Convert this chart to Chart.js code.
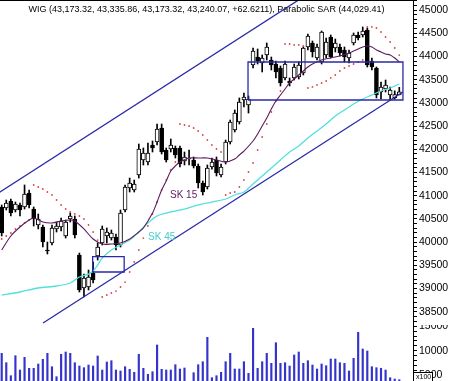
<!DOCTYPE html>
<html>
<head>
<meta charset="utf-8">
<script src="https://cdn.jsdelivr.net/npm/chart.js@4.4.0/dist/chart.umd.min.js"></script>
<style>
  html, body { margin: 0; padding: 0; background: #fff; overflow: hidden; }
  #wrap { position: relative; width: 450px; height: 381px; }
  #priceBox { position: absolute; left: 0; top: 0; width: 450px; height: 325px; }
  #volBox { position: absolute; left: 0; top: 325px; width: 450px; height: 56px; }
  #title { position: absolute; left: 0; top: 4px; width: 413px; text-align: center;
           font: 9px "Liberation Sans", Arial, sans-serif; color: #000; white-space: nowrap; }
</style>
</head>
<body>
<div id="wrap">
  <div id="priceBox"><canvas id="price" width="450" height="325"></canvas></div>
  <div id="volBox"><canvas id="vol" width="450" height="56"></canvas></div>
  <div id="title">WIG (43,173.32, 43,335.86, 43,173.32, 43,240.07, +62.6211), Parabolic SAR (44,029.41)</div>
</div>
<script>
// daily candles (oldest first)
const opens = [40757, 40735, 40886, 40692, 40800, 40757, 41058, 40713, 40369, 40326,
  39830, 39981, 40283, 40326, 40132, 40498, 40498, 39722, 39011, 39033,
  39334, 39700, 39981, 40132, 40088, 40110, 39938, 40692, 41166, 41123,
  41446, 41769, 41726, 42093, 42157, 42459, 41985, 42006, 42028, 42028,
  41748, 41791, 41769, 41640, 41274, 41188, 41619, 41769, 41446, 41726,
  42157, 42416, 42588, 43062, 42955, 43817, 43989, 43860, 44032, 43924,
  43838, 43752, 43537, 43472, 43537, 43558, 43644, 44205, 44291, 43968,
  43881, 44032, 44420, 44183, 44205, 44140, 43968, 44291, 44463, 44463,
  44571, 43903, 43752, 43235, 43299, 43170, 43110, 43173.32];
const highs = [40800, 40907, 40929, 40864, 40843, 41231, 41123, 40757, 40606, 40369,
  40002, 40369, 40433, 40519, 40476, 40627, 40563, 39765, 39312, 39399,
  39571, 39981, 40347, 40304, 40261, 40175, 40692, 41231, 41381, 41338,
  42114, 42028, 42136, 42179, 42545, 42545, 42028, 42222, 42071, 42071,
  41942, 41985, 41834, 41683, 41317, 41662, 41812, 41834, 41683, 42200,
  42631, 42847, 43106, 43213, 43149, 44183, 44161, 44032, 44291, 43989,
  43903, 43795, 43903, 43537, 43838, 43881, 44205, 44485, 44334, 44269,
  44549, 44398, 44463, 44377, 44269, 44205, 44140, 44506, 44528, 44636,
  44614, 43968, 43773, 43450, 43493, 43343, 43260, 43335.86];
const lows = [40132, 40692, 40563, 40649, 40563, 40713, 40735, 40347, 40283, 39895,
  39744, 39938, 40218, 40240, 40088, 40433, 40088, 38925, 38817, 38968,
  39119, 39614, 39938, 39981, 40045, 39830, 39895, 40649, 41080, 41080,
  41381, 41662, 41662, 41942, 42093, 41899, 41726, 41942, 41812, 41619,
  41662, 41662, 41597, 41166, 41015, 41144, 41573, 41425, 41403, 41683,
  42114, 42373, 42545, 42912, 42782, 43752, 43838, 43666, 43924, 43709,
  43537, 43364, 43493, 43364, 43493, 43515, 43601, 44140, 43989, 43924,
  43838, 43968, 43968, 44097, 44011, 43881, 43860, 44248, 44355, 44420,
  43773, 43709, 43106, 43084, 43235, 43062, 43080, 43173.32];
const closes = [40196, 40843, 40627, 40821, 40692, 41037, 40800, 40498, 40498, 40002,
  39808, 40304, 40347, 40455, 40433, 40563, 40153, 38968, 39226, 39248,
  39183, 39894, 40283, 40218, 40196, 39938, 40627, 41188, 41274, 41252,
  42006, 41920, 41920, 42028, 42437, 41942, 41769, 42093, 41877, 41683,
  41834, 41812, 41640, 41274, 41080, 41597, 41726, 41489, 41619, 42157,
  42588, 42782, 43019, 43127, 43084, 44118, 43903, 43968, 44205, 43817,
  43666, 43429, 43838, 43429, 43773, 43817, 44183, 44442, 44097, 44205,
  44528, 44312, 43989, 44291, 44075, 43989, 44075, 44463, 44398, 44549,
  43817, 43773, 43170, 43343, 43386, 43278, 43177, 43240.07];
// volume in hundreds (axis marked x100)
const volumes = [9465, 7530, 4855, 8971, 6028, 8641, 6378, 6378, 7263, 8230,
  9465, 6707, 4649, 9259, 9732, 9465, 7530, 6851, 6501, 7057,
  6851, 8909, 6028, 7674, 7942, 6028, 5822, 6707, 6172, 5555,
  9259, 6378, 5143, 5679, 11173, 6172, 6028, 6028, 7119, 6234,
  6440, 3600, 5472, 7119, 7736, 12757, 4443, 4855, 5555, 7736,
  9465, 6234, 6234, 7736, 5349, 14610, 6378, 7736, 9465, 7406,
  11646, 7406, 7530, 6851, 9115, 9732, 7406, 7942, 7057, 6234,
  7263, 6913, 8292, 8292, 7530, 7406, 5822, 8436, 13787, 10350,
  9938, 6707, 6501, 6378, 6028, 4443, 4176, 4032];
// Parabolic SAR, one dot per candle
const sar = [40067, 40132, 40196, 40283, 40347, 40412, 40476, 41231, 41188, 41145,
  41080, 41015, 40907, 40800, 40713, 40649, 40606, 40563, 40498, 40369,
  40218, 40045, 38817, 38860, 38903, 38946, 39033, 39140, 39356, 39571,
  39830, 40088, 40347, 40606, 40864, 41123, 41338, 41554, 41726, 42545,
  42524, 42502, 42459, 42394, 42308, 42200, 42093, 42006, 41942, 41015,
  41058, 41080, 41188, 41338, 41511, 41705, 41985, 42265, 42545, 42804,
  43041, 43256, 44269, 44269, 44248, 44248, 44226, 43321, 43343, 43386,
  43429, 43472, 43537, 43601, 43687, 43752, 43795, 43838, 43881, 43924,
  44636, 44636, 44614, 44528, 44420, 44312, 44183, 44029.41];
// moving averages, sampled at candle positions
const sk15Idx = [0, 2, 4, 6, 7, 9, 11, 13, 15, 16, 18, 20, 22, 24, 26, 28, 30, 31, 33, 34,
  35, 36, 37, 38, 39, 41, 43, 45, 47, 49, 51, 52, 53, 55, 56, 57, 58, 59, 60, 61,
  62, 63, 64, 65, 66, 67, 68, 70, 72, 74, 76, 77, 78, 79, 80, 81, 82, 83, 84, 85, 86, 87];
const sk15Val = [39830, 40132, 40326, 40476, 40520, 40433, 40412, 40455, 40476, 40455,
  40283, 40067, 39959, 39959, 39981, 40067, 40218, 40304, 40627, 40864,
  41123, 41317, 41532, 41640, 41726, 41812, 41812, 41812, 41769, 41726,
  41791, 41877, 41963, 42179, 42330, 42502, 42674, 42868, 43041, 43170,
  43299, 43429, 43515, 43601, 43687, 43773, 43838, 43924, 43968, 44011,
  44075, 44118, 44161, 44205, 44226, 44205, 44140, 44097, 44054, 44032, 43968, 43881];
const sk45Idx = [0, 4, 8, 12, 15, 17, 19, 20, 21, 22, 24, 26, 28, 30, 32, 34, 36, 38, 40, 43,
  46, 49, 51, 53, 55, 57, 59, 61, 63, 65, 67, 69, 71, 73, 75, 77, 79, 81, 83, 85, 87];
const sk45Val = [38860, 38925, 39011, 39054, 39119, 39248, 39312, 39377, 39507, 39657,
  39830, 39938, 40045, 40218, 40412, 40563, 40627, 40670, 40713, 40800,
  40864, 40929, 41015, 41080, 41252, 41425, 41597, 41769, 41942, 42071,
  42244, 42394, 42545, 42717, 42847, 42976, 43084, 43170, 43256, 43321, 43407];
// trend channel and boxes drawn on the chart (candle position, price)
const upperIdx = [-0.8, 70];
const upperVal = [41052, 45536];
const lowerIdx = [9.04, 87.8];
const lowerVal = [38257, 43235];
const bigBoxIdx = [53.9, 87.8];
const bigBoxVal = [43062, 43881];
const smallBoxIdx = [19.9, 26.8];
const smallBoxVal = [39356, 39686];
const priceTicks = { min: 38300, max: 45200, step: 100, major: 500 };
const volTicks = { min: 4000, max: 15000, step: 1000, major: 5000 };

const NAVY = '#2a2aa8';
const FONT = "'Liberation Sans', Arial, sans-serif";

function pts(xs, ys) { return xs.map((x, i) => ({ x: x, y: ys[i] })); }
function boxPts(xs, ys) {
  return [{x: xs[0], y: ys[0]}, {x: xs[1], y: ys[0]}, {x: xs[1], y: ys[1]},
          {x: xs[0], y: ys[1]}, {x: xs[0], y: ys[0]}];
}
function tickList(t) {
  const out = [];
  for (let v = t.min; v <= t.max; v += t.step) out.push({ value: v });
  return out;
}
const xScale = { type: 'linear', display: false, offset: false, min: -0.372, max: 90.0 };

function rightAxis(min, max, t) {
  return {
    type: 'linear', position: 'right', min: min, max: max,
    afterBuildTicks: s => { s.ticks = tickList(t); },
    afterFit: s => { s.width = 37; s.paddingTop = 0; s.paddingBottom = 0; },
    grid: { drawOnChartArea: false, drawTicks: true, tickLength: 4, color: '#000', lineWidth: 1 },
    border: { display: true, color: '#000', width: 1 },
    ticks: {
      autoSkip: false, padding: 2, color: '#000',
      font: { family: FONT, size: 10.5 },
      callback: v => (v % t.major === 0 ? String(v) : '')
    }
  };
}

const frame = {
  id: 'frame',
  afterDraw(chart) {
    const c = chart.ctx, a = chart.chartArea;
    c.save();
    c.strokeStyle = '#000';
    c.lineWidth = 1;
    c.beginPath();
    c.moveTo(a.left, 0.5);
    c.lineTo(a.right, 0.5);
    c.stroke();
    // moving average names
    const x = chart.scales.x, y = chart.scales.y;
    c.font = '10px ' + FONT;
    c.textAlign = 'center';
    c.textBaseline = 'middle';
    c.fillStyle = '#5e1a5e';
    c.fillText('SK 15', x.getPixelForValue(39.8), y.getPixelForValue(41020));
    c.fillStyle = '#45cccc';
    c.fillText('SK 45', x.getPixelForValue(35.0), y.getPixelForValue(40110));
    c.restore();
  }
};

const up = i => closes[i] >= opens[i];

new Chart(document.getElementById('price'), {
  type: 'bar',
  data: {
    datasets: [
      { type: 'line', data: pts(upperIdx, upperVal), borderColor: NAVY, borderWidth: 1.3, pointRadius: 0, order: 1 },
      { type: 'line', data: pts(lowerIdx, lowerVal), borderColor: NAVY, borderWidth: 1.3, pointRadius: 0, order: 1 },
      { type: 'line', data: boxPts(bigBoxIdx, bigBoxVal), borderColor: NAVY, borderWidth: 1.3, pointRadius: 0, order: 1 },
      { type: 'line', data: boxPts(smallBoxIdx, smallBoxVal), borderColor: NAVY, borderWidth: 1.3, pointRadius: 0, order: 1 },
      { type: 'line', data: pts(sk15Idx, sk15Val), borderColor: '#5e1a5e', borderWidth: 1.1, pointRadius: 0, tension: 0.3, order: 2 },
      { type: 'line', data: pts(sk45Idx, sk45Val), borderColor: '#4fe0dc', borderWidth: 1.3, pointRadius: 0, tension: 0.3, order: 2 },
      { type: 'line', data: sar.map((v, i) => ({ x: i, y: v })), showLine: false,
        pointRadius: 0.9, pointBackgroundColor: '#d84848', pointBorderWidth: 0, order: 3 },
      { data: opens.map((o, i) => ({ x: i, y: [o, closes[i]] })), grouped: false,
        barThickness: 4, minBarLength: 1, borderWidth: 1, borderSkipped: false, borderColor: '#000',
        backgroundColor: c => (up(c.dataIndex) ? '#fff' : '#000'), order: 4 },
      { data: lows.map((l, i) => ({ x: i, y: [l, highs[i]] })), grouped: false,
        barThickness: 1, backgroundColor: '#000', borderWidth: 0, order: 5 }
    ]
  },
  options: {
    responsive: false, animation: false, events: [],
    layout: { padding: 0, autoPadding: false },
    plugins: { legend: { display: false }, tooltip: { enabled: false } },
    scales: { x: xScale, y: rightAxis(38214, 45217, priceTicks) }
  },
  plugins: [frame]
});

const volBadge = {
  id: 'volBadge',
  afterDraw(chart) {
    const c = chart.ctx, a = chart.chartArea;
    c.save();
    c.fillStyle = '#fff';
    c.fillRect(a.right + 0.5, 47.5, 19, 10);
    c.strokeStyle = '#000';
    c.lineWidth = 1;
    c.strokeRect(a.right + 0.5, 47.5, 19, 10);
    c.fillStyle = '#000';
    c.font = '7px ' + FONT;
    c.textBaseline = 'middle';
    c.fillText('x100', a.right + 3, 52.5);
    c.restore();
  }
};

new Chart(document.getElementById('vol'), {
  type: 'bar',
  data: {
    datasets: [{
      data: volumes.map((v, i) => ({ x: i, y: v })),
      barThickness: 1.5, backgroundColor: '#3434cc', borderWidth: 0
    }]
  },
  options: {
    responsive: false, animation: false, events: [],
    layout: { padding: 0, autoPadding: false },
    plugins: { legend: { display: false }, tooltip: { enabled: false } },
    scales: { x: xScale, y: rightAxis(3764, 15289, volTicks) }
  },
  plugins: [volBadge]
});
</script>
</body>
</html>
